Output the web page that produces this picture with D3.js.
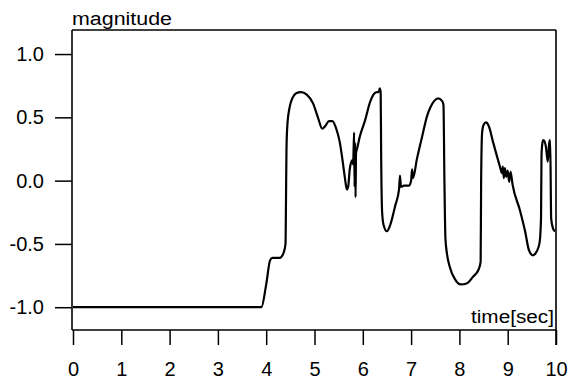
<!DOCTYPE html>
<html>
<head>
<meta charset="utf-8">
<script src="https://cdn.jsdelivr.net/npm/d3@7/dist/d3.min.js"></script>
<style>
  body { margin: 0; background: #fff; }
  text { font-family: "Liberation Sans", Arial, sans-serif; fill: #000; }
</style>
</head>
<body>
<svg id="chart" width="570" height="380"></svg>
<script>
// Data
var time = [0, 3.90, 4.00, 4.08, 4.13, 4.28, 4.36, 4.40, 4.41, 4.42, 4.44, 4.48, 4.54, 4.62, 4.72, 4.84, 4.97, 5.07, 5.16, 5.22, 5.30, 5.37, 5.45, 5.52, 5.57, 5.63, 5.67, 5.70, 5.73, 5.78, 5.80, 5.82, 5.83, 5.84, 5.85, 5.86, 5.88, 5.94, 6.05, 6.15, 6.22, 6.29, 6.33, 6.35, 6.37, 6.38, 6.40, 6.43, 6.50, 6.56, 6.67, 6.75, 6.77, 6.79, 6.85, 6.95, 7.00, 7.02, 7.04, 7.12, 7.23, 7.33, 7.40, 7.48, 7.56, 7.64, 7.67, 7.69, 7.71, 7.74, 7.80, 7.91, 8.03, 8.16, 8.28, 8.40, 8.44, 8.45, 8.47, 8.50, 8.55, 8.61, 8.70, 8.78, 8.84, 8.88, 8.90, 8.92, 8.94, 8.97, 9.00, 9.03, 9.06, 9.10, 9.25, 9.36, 9.44, 9.52, 9.60, 9.66, 9.69, 9.70, 9.72, 9.74, 9.79, 9.83, 9.86, 9.88, 9.90, 9.94, 9.98];
var magnitude = [-1.0, -1.0, -0.82, -0.63, -0.61, -0.61, -0.57, -0.50, -0.15, 0.25, 0.45, 0.57, 0.65, 0.69, 0.70, 0.68, 0.61, 0.50, 0.41, 0.43, 0.47, 0.47, 0.41, 0.31, 0.19, 0.02, -0.07, -0.04, 0.09, 0.16, 0.13, 0.38, -0.05, 0.30, -0.13, 0.22, 0.25, 0.35, 0.48, 0.62, 0.68, 0.70, 0.70, 0.73, 0.70, 0.20, -0.25, -0.35, -0.40, -0.36, -0.20, -0.07, 0.04, -0.05, -0.04, -0.04, 0.0, 0.09, 0.02, 0.17, 0.35, 0.51, 0.58, 0.63, 0.65, 0.63, 0.60, 0.0, -0.45, -0.57, -0.68, -0.78, -0.82, -0.81, -0.76, -0.70, -0.64, 0.0, 0.38, 0.44, 0.46, 0.43, 0.30, 0.19, 0.11, 0.06, 0.11, 0.02, 0.10, 0.03, 0.08, -0.01, 0.07, -0.03, -0.23, -0.40, -0.55, -0.59, -0.56, -0.49, -0.30, 0.20, 0.30, 0.32, 0.27, 0.15, 0.30, 0.32, -0.30, -0.38, -0.40];
var xTicks = [0, 1, 2, 3, 4, 5, 6, 7, 8, 9, 10];
var yTicks = [1.0, 0.5, 0.0, -0.5, -1.0];

var data = time.map(function(t, i) { return {t: t, v: magnitude[i]}; });

var svg = d3.select("svg#chart");
var frameLeft = 72, frameRight = 556, frameTop = 30, frameBottom = 330;

var x = d3.scaleLinear().domain([0, 10]).range([73, 556]);
var y = d3.scaleLinear().domain([-1.18, 1.19]).range([frameBottom, frameTop]);

// Axes (plain hyphen for negatives, like the original)
var fmtY = function(d) { return d.toFixed(1); };
var yAxis = d3.axisLeft(y).tickValues(yTicks).tickFormat(fmtY).tickSize(17).tickPadding(11);
var xAxis = d3.axisBottom(x).tickValues(xTicks).tickFormat(function(d) { return String(d); }).tickSize(15).tickPadding(17);

var gy = svg.append("g").attr("transform", "translate(" + frameLeft + ",0)").call(yAxis);
var gx = svg.append("g").attr("transform", "translate(0," + frameBottom + ")").call(xAxis);
[gy, gx].forEach(function(g) {
    g.select(".domain").remove();
    g.selectAll("line").attr("stroke", "#000").attr("stroke-width", 1.5);
    g.selectAll("text").style("font-size", "20px").attr("fill", "#000")
        .style("font-family", "'Liberation Sans', Arial, sans-serif");
});

// Frame
var frame = svg.append("g").attr("stroke", "#000").attr("stroke-width", 1.6).attr("fill", "none");
frame.append("line").attr("x1", frameLeft).attr("x2", frameRight).attr("y1", frameTop).attr("y2", frameTop);
frame.append("line").attr("x1", frameLeft).attr("x2", frameLeft).attr("y1", frameTop).attr("y2", frameBottom);
frame.append("line").attr("x1", frameLeft).attr("x2", frameRight).attr("y1", frameBottom).attr("y2", frameBottom);
frame.append("line").attr("x1", frameRight).attr("x2", frameRight).attr("y1", frameTop).attr("y2", frameBottom + 15);

// Labels
svg.append("text").attr("x", frameLeft).attr("y", 25).style("font-size", "18px")
    .attr("textLength", 100).attr("lengthAdjust", "spacingAndGlyphs").text("magnitude");
svg.append("text").attr("x", 471).attr("y", 323).style("font-size", "18px")
    .attr("textLength", 83).attr("lengthAdjust", "spacingAndGlyphs").text("time[sec]");

// Signal
svg.append("path").datum(data)
    .attr("fill", "none").attr("stroke", "#000").attr("stroke-width", 2.2)
    .attr("stroke-linejoin", "round")
    .attr("d", d3.line().curve(d3.curveMonotoneX)
        .x(function(d) { return x(d.t); })
        .y(function(d) { return y(d.v); }));
</script>
</body>
</html>
